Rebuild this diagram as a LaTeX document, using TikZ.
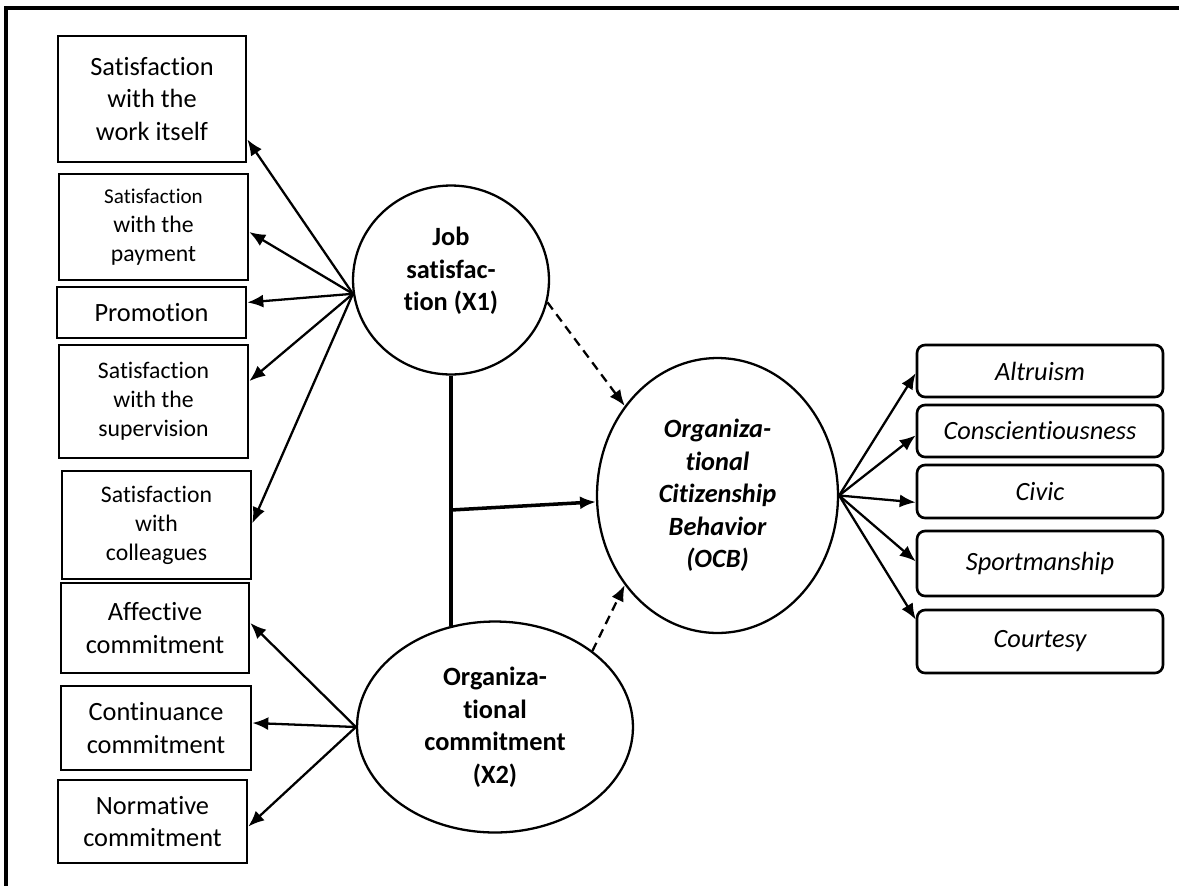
\documentclass[tikz,border=0pt]{standalone}
\usepackage{fontspec}
\setmainfont{Carlito}[Ligatures=NoCommon]
\usetikzlibrary{arrows.meta,shapes.geometric}
\tikzset{
  box/.style={draw, line width=1.5pt, inner sep=0pt, align=center, font=\fontsize{15}{18.5}\selectfont},
  sbox/.style={box, font=\fontsize{13.5}{16.5}\selectfont},
  rbox/.style={box, rounded corners=1.6mm, minimum width=4.92cm, font=\fontsize{15}{18.5}\selectfont\itshape},
  latent/.style={draw, ellipse, line width=1.3pt, inner sep=0pt, align=center, font=\fontsize{15}{18.5}\selectfont\bfseries},
  arr/.style={-{Latex[length=3.2mm,width=2.6mm]}, line width=1.3pt},
  dasharr/.style={arr, dash pattern=on 1.8mm off 1.2mm},
}
\begin{document}
\begin{tikzpicture}[x=0.02cm, y=-0.02cm]
\useasboundingbox (0,0) rectangle (1179,886);
\draw[line width=1.8pt](1179,8)--(6,8)--(6,886);
\node[box, minimum width=3.76cm, minimum height=2.52cm](w1) at (152,99){Satisfaction\\with the\\work itself};
\node[sbox, minimum width=3.78cm, minimum height=2.12cm](w2) at (153.5,227){{\fontsize{12}{14.5}\selectfont Satisfaction}\\with the\\payment};
\node[box, minimum width=3.78cm, minimum height=1.02cm](w3) at (151.5,312.5){Promotion};
\node[sbox, minimum width=3.78cm, minimum height=2.26cm](w4) at (153.5,401.5){Satisfaction\\with the\\supervision};
\node[sbox, minimum width=3.78cm, minimum height=2.16cm](w5) at (156.5,525){Satisfaction\\with\\colleagues};
\node[box, minimum width=3.76cm, minimum height=1.8cm](c1) at (155,628){Affective\\commitment};
\node[box, minimum width=3.8cm, minimum height=1.68cm](c2) at (156,728){Continuance\\commitment};
\node[box, minimum width=3.78cm, minimum height=1.66cm](c3) at (152.5,821.5){Normative\\commitment};
\node[latent, minimum width=3.92cm, minimum height=3.78cm](js) at (451,280){Job\\satisfac-\\tion (X1)\\[-6pt]\mbox{}};
\node[latent, minimum width=5.52cm, minimum height=4.22cm](oc) at (495,727){Organiza-\\tional\\commitment\\(X2)};
\node[latent, font=\fontsize{15}{18.5}\selectfont\bfseries\itshape, minimum width=4.82cm, minimum height=5.5cm](ocb) at (717.5,495.5){Organiza-\\tional\\Citizenship\\Behavior\\(OCB)};
\node[rbox, minimum height=1.04cm](r1) at (1040,371){Altruism};
\node[rbox, minimum height=1.04cm](r2) at (1040,431){Conscientiousness};
\node[rbox, minimum height=1.06cm](r3) at (1040,491.5){Civic};
\node[rbox, minimum height=1.3cm](r4) at (1040,563.5){Sportmanship};
\node[rbox, minimum height=1.26cm](r5) at (1040,641.5){Courtesy};
\foreach \b/\a in {w1/-23.6, w2/-3, w3/6.8, w4/12.6, w5/1}
  \draw[arr](js.188)--(\b.\a);
\foreach \b/\a in {c1/3.6, c2/3, c3/-3.3}
  \draw[arr](oc.west)--(\b.\a);
\foreach \b/\a in {r1/181, r2/182, r3/185, r4/179.3, r5/170}
  \draw[arr](ocb.east)--(\b.\a);
\draw[dasharr](js.-13)--(ocb.136);
\draw[dasharr](oc.38)--(ocb.224);
\draw[line width=2pt](js.south)--(js.south |- oc.114);
\coordinate (jn) at (451,510);
\draw[arr, line width=2pt](jn)--(ocb.183);
\end{tikzpicture}
\end{document}
